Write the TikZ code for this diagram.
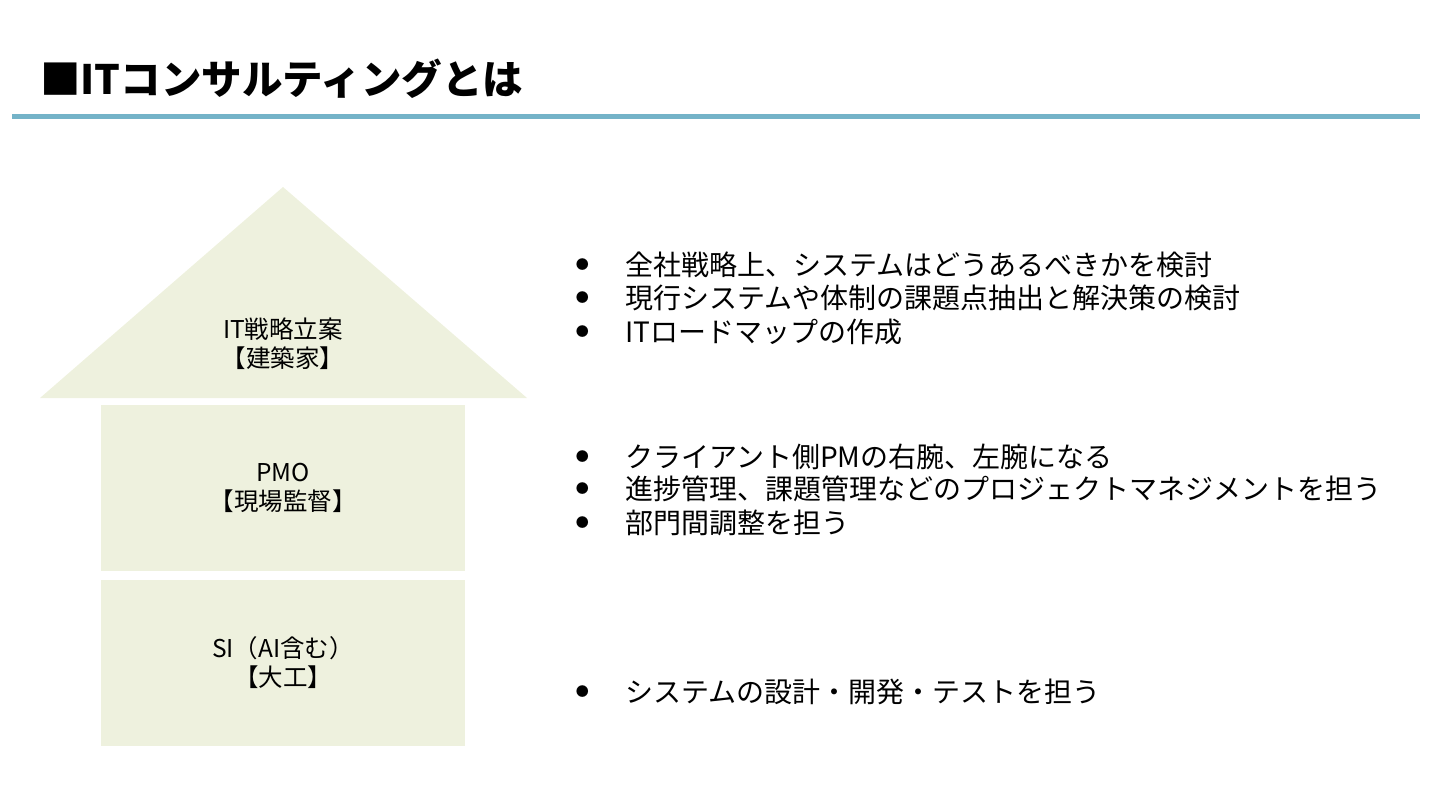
\documentclass[tikz,border=0pt]{standalone}
\usepackage{fontspec}
\setmainfont{Noto Sans CJK JP}
\usetikzlibrary{positioning}
\definecolor{roofgreen}{HTML}{EEF1DE}
\definecolor{ruleblue}{HTML}{74B3C8}

\begin{document}
\begin{tikzpicture}[x=1pt, y=-1pt,
    layer/.style={rectangle, fill=roofgreen, minimum width=364pt, minimum height=166pt, inner sep=0pt, align=center, font=\fontsize{24.5}{29}\selectfont},
    item/.style={anchor=west, inner sep=0pt, font=\fontsize{28}{34}\selectfont},
    dot/.style={inner sep=0pt, font=\fontsize{13}{13}\selectfont}
]
    \useasboundingbox (0,0) rectangle (1440,811);

    % title and rule
    \node[anchor=west, inner sep=0pt, font=\fontsize{40.5}{42}\selectfont\bfseries] (title) at (40,79) {■ITコンサルティングとは};
    \draw[ruleblue, line width=5pt] (12,116) -- (1420,116);

    % house
    \fill[roofgreen] (40,398) -- (283,187) -- (527,398) -- cycle;
    \node[align=center, inner sep=0pt, font=\fontsize{24.5}{29}\selectfont] (roof) at (283,344) {IT戦略立案\\【建築家】};
    \node[layer] (pmo) at (283,488) {PMO\\【現場監督】};
    \node[layer] (si) at (283,663) {SI（AI含む）\\【大工】};

    % bullets
    \node[item] (a1) at (625,265) {全社戦略上、システムはどうあるべきかを検討};
    \node[item] (a2) at (625,298) {現行システムや体制の課題点抽出と解決策の検討};
    \node[item] (a3) at (625,332) {ITロードマップの作成};
    \node[item] (b1) at (625,457) {クライアント側PMの右腕、左腕になる};
    \node[item] (b2) at (625,489) {進捗管理、課題管理などのプロジェクトマネジメントを担う};
    \node[item] (b3) at (625,523) {部門間調整を担う};
    \node[item] (c1) at (625,692) {システムの設計・開発・テストを担う};

    \foreach \n in {a1,a2,a3,b1,b2,b3,c1}
        \node[dot, left=36pt of \n] {●};
\end{tikzpicture}
\end{document}
